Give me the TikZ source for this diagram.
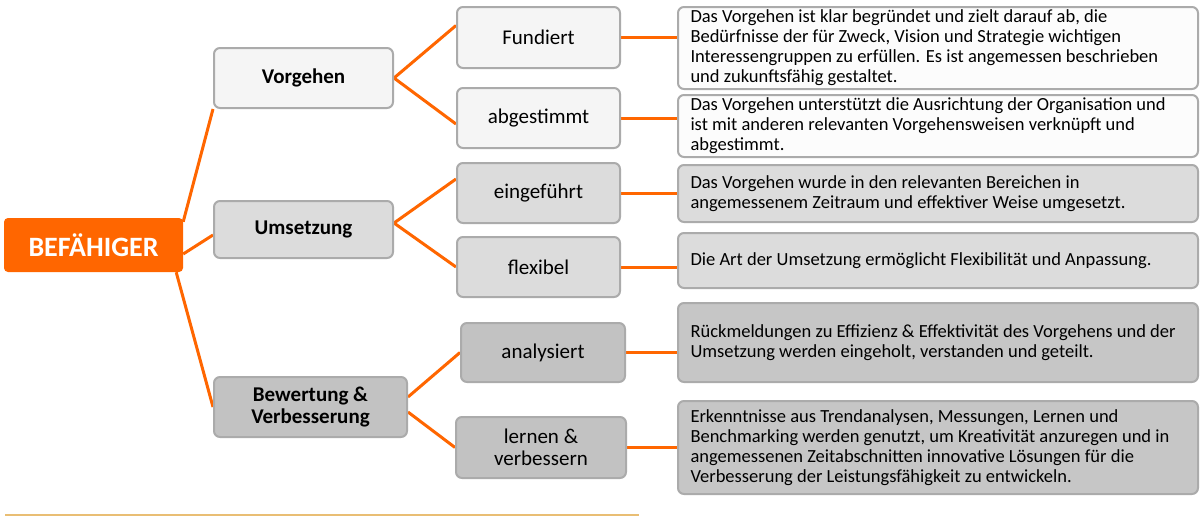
\documentclass[tikz,border=0pt]{standalone}
\usepackage{fontspec}
\setmainfont{Carlito}
\usetikzlibrary{backgrounds,calc}
\definecolor{orangeC}{HTML}{FF6600}
\definecolor{borderC}{HTML}{ABABAB}
\definecolor{fillA}{HTML}{F5F5F5}
\definecolor{fillAd}{HTML}{FCFCFC}
\definecolor{fillB}{HTML}{DCDCDC}
\definecolor{fillC}{HTML}{C2C2C2}
\definecolor{fillCd}{HTML}{C6C6C6}
\definecolor{ruleC}{HTML}{E9BE74}
\begin{document}
\begin{tikzpicture}[x=1pt,y=-1pt,
  rootbox/.style={fill=orangeC, rounded corners=4pt, text=white,
    font=\fontsize{28}{31}\selectfont\bfseries, minimum width=179pt, minimum height=54pt, inner sep=0pt},
  catbox/.style={draw=borderC, line width=2pt, rounded corners=6pt, align=center,
    font=\fontsize{21}{22}\selectfont\bfseries, inner sep=0pt},
  subbox/.style={draw=borderC, line width=2pt, rounded corners=6pt, align=center,
    font=\fontsize{21}{22}\selectfont, inner sep=0pt},
  descbox/.style={draw=borderC, line width=2pt, rounded corners=6pt, align=flush left,
    text width=495pt, inner xsep=12.5pt, inner ysep=0pt,
    font=\fontsize{18.5}{20}\selectfont},
  link/.style={draw=orangeC, line width=3pt}
]
\useasboundingbox (0,0) rectangle (1200,517);

% root
\node[rootbox] (root) at (93.5,245) {BEFÄHIGER};

% categories
\node[catbox, fill=fillA, minimum width=179pt, minimum height=60pt] (vorg) at (303.5,78) {Vorgehen};
\node[catbox, fill=fillB, minimum width=179pt, minimum height=57pt] (umset) at (303.5,229.5) {Umsetzung};
\node[catbox, fill=fillC, minimum width=193pt, minimum height=60pt] (bew) at (310.5,407) {Bewertung \&\\Verbesserung};

% sub items
\node[subbox, fill=fillA, minimum width=163pt, minimum height=61pt] (fund) at (538.5,37.5) {Fundiert};
\node[subbox, fill=fillA, minimum width=163pt, minimum height=60pt] (abg) at (538.5,118) {abgestimmt};
\node[subbox, fill=fillB, minimum width=163pt, minimum height=60pt] (eing) at (538.5,193) {eingeführt};
\node[subbox, fill=fillB, minimum width=163pt, minimum height=60pt] (flex) at (538.5,267) {flexibel};
\node[subbox, fill=fillC, minimum width=164pt, minimum height=59pt] (anal) at (543,352.5) {analysiert};
\node[subbox, fill=fillC, minimum width=170pt, minimum height=61pt] (lern) at (541,447.5) {lernen \&\\verbessern};

% descriptions
\node[descbox, fill=fillAd, minimum height=82pt] (d1) at (938,48) {Das Vorgehen ist klar begründet und zielt darauf ab, die\\Bedürfnisse der für Zweck, Vision und Strategie wichtigen\\Interessengruppen zu erfüllen. Es ist angemessen beschrieben\\und zukunftsfähig gestaltet.};
\node[descbox, fill=fillAd, minimum height=62pt] (d2) at (938,126) {Das Vorgehen unterstützt die Ausrichtung der Organisation und\\ist mit anderen relevanten Vorgehensweisen verknüpft und\\abgestimmt.};
\node[descbox, fill=fillB, minimum height=57pt] (d3) at (938,193.5) {Das Vorgehen wurde in den relevanten Bereichen in\\angemessenem Zeitraum und effektiver Weise umgesetzt.};
\node[descbox, fill=fillB, minimum height=55pt] (d4) at (938,260.5) {Die Art der Umsetzung ermöglicht Flexibilität und Anpassung.};
\node[descbox, fill=fillCd, minimum height=79pt] (d5) at (938,342.5) {Rückmeldungen zu Effizienz \& Effektivität des Vorgehens und der\\Umsetzung werden eingeholt, verstanden und geteilt.};
\node[descbox, fill=fillCd, minimum height=93pt] (d6) at (938,447.5) {Erkenntnisse aus Trendanalysen, Messungen, Lernen und\\Benchmarking werden genutzt, um Kreativität anzuregen und in\\angemessenen Zeitabschnitten innovative Lösungen für die\\Verbesserung der Leistungsfähigkeit zu entwickeln.};

\begin{scope}[on background layer]
  \draw[link] ([yshift=-4pt]root.north east) -- (vorg.south west);
  \draw[link] ([yshift=-9pt]root.east) -- ([yshift=-5.5pt]umset.west);
  \draw[link] ([xshift=-7pt]root.south east) -- (bew.west);
  \draw[link] (vorg.east) -- ([yshift=12pt]fund.west);
  \draw[link] (vorg.east) -- ([yshift=-6pt]abg.west);
  \draw[link] ([yshift=6.5pt]umset.east) -- ([yshift=14pt]eing.west);
  \draw[link] ([yshift=6.5pt]umset.east) -- (flex.west);
  \draw[link] ([yshift=10pt]bew.east) -- (anal.west);
  \draw[link] ([yshift=-5pt]bew.east) -- (lern.west);
  \draw[link] (fund.east) -- (fund.east -| d1.west);
  \draw[link] (abg.east) -- (abg.east -| d2.west);
  \draw[link] (eing.east) -- (eing.east -| d3.west);
  \draw[link] (flex.east) -- (flex.east -| d4.west);
  \draw[link] (anal.east) -- (anal.east -| d5.west);
  \draw[link] (lern.east) -- (lern.east -| d6.west);
\end{scope}

\draw[ruleC, line width=1.5pt] (5,515) -- (639,515);
\end{tikzpicture}
\end{document}
